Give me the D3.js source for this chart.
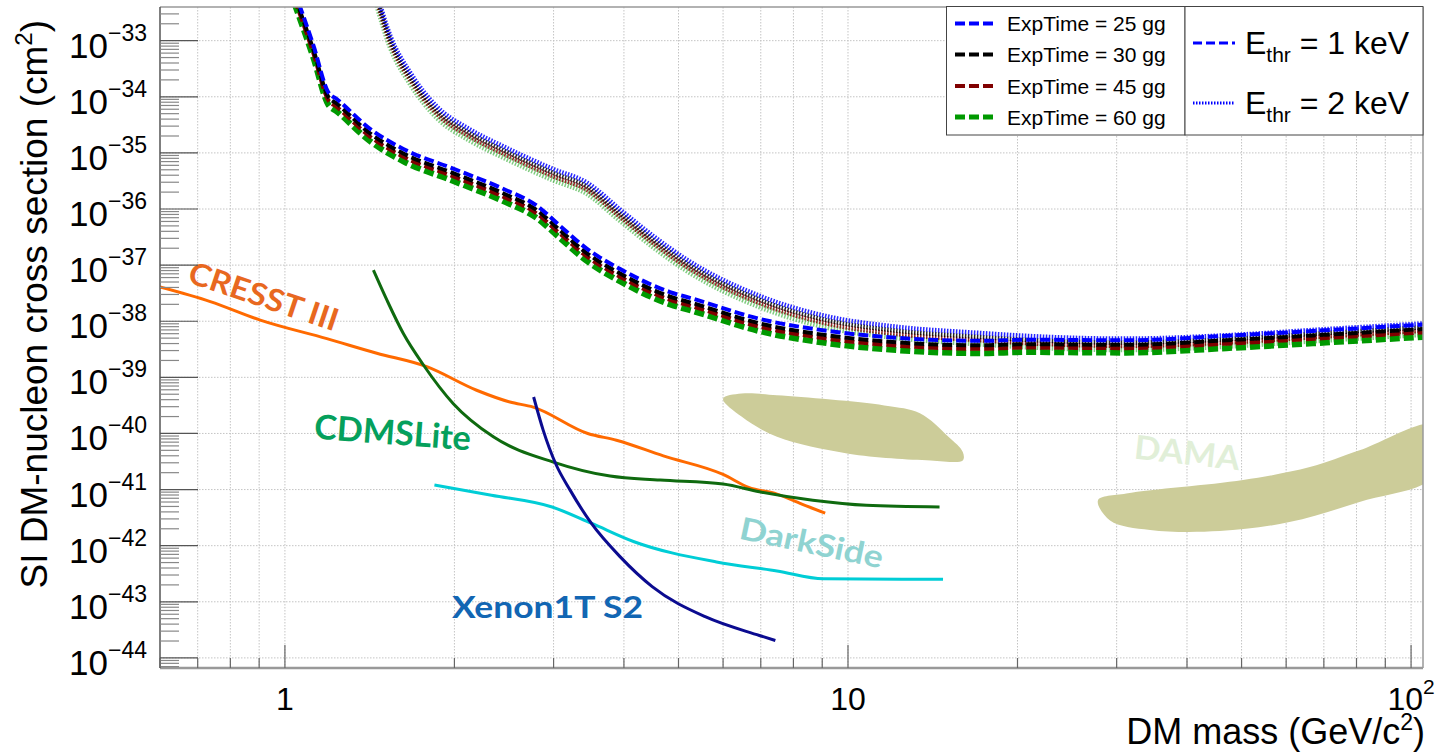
<!DOCTYPE html>
<html lang="en">
<head>
<meta charset="UTF-8">
<title>SI DM-nucleon cross section</title>
<script src="https://d3js.org/d3.v7.min.js"></script>
<style>
  body { margin: 0; background: #fff; }
  svg { display: block; font-family: "Liberation Sans", Arial, sans-serif; }
  .grid line { stroke: #c4c4c4; stroke-width: 1; stroke-dasharray: 1.5,1.5; }
  .tag { font-family: Lato, "Open Sans", sans-serif; font-weight: bold; }
</style>
</head>
<body>
<div id="chart"></div>
<script>
// masses in GeV/c^2, cross sections as log10(sigma / cm^2)

// E_thr = 1 keV (dashed)
var mass1keV = [1.04, 1.124, 1.194, 1.236, 1.416, 1.623, 1.99, 2.44, 2.80, 3.08, 3.44, 3.94, 4.83, 5.31, 6.98, 9.16, 12.0, 17.2, 20.7, 31.2, 47.0, 70.7, 105];
var exp25_1keV = [-32.12, -33.09, -33.92, -34.04, -34.57, -34.93, -35.28, -35.64, -35.94, -36.30, -36.71, -37.07, -37.48, -37.60, -37.96, -38.17, -38.29, -38.35, -38.33, -38.34, -38.26, -38.16, -38.06];
var exp30_1keV = [-32.20, -33.17, -34.00, -34.12, -34.65, -35.01, -35.36, -35.72, -36.02, -36.38, -36.79, -37.15, -37.56, -37.68, -38.04, -38.25, -38.37, -38.43, -38.41, -38.42, -38.34, -38.24, -38.14];
var exp45_1keV = [-32.26, -33.23, -34.06, -34.18, -34.71, -35.07, -35.42, -35.78, -36.08, -36.44, -36.85, -37.21, -37.62, -37.74, -38.10, -38.31, -38.43, -38.49, -38.47, -38.48, -38.40, -38.30, -38.20];
var exp60_1keV = [-32.34, -33.31, -34.14, -34.26, -34.79, -35.15, -35.50, -35.86, -36.16, -36.52, -36.93, -37.29, -37.70, -37.82, -38.18, -38.39, -38.51, -38.57, -38.55, -38.56, -38.48, -38.38, -38.28];

// E_thr = 2 keV (dotted)
var mass2keV = [1.44, 1.54, 1.67, 1.86, 2.13, 2.44, 3.0, 3.44, 3.94, 4.51, 5.17, 6.98, 9.16, 12.0, 17.2, 20.7, 31.2, 47.0, 70.7, 105];
var exp25_2keV = [-31.98, -32.92, -33.57, -34.17, -34.58, -34.88, -35.29, -35.53, -36.01, -36.48, -36.90, -37.55, -37.91, -38.09, -38.21, -38.26, -38.31, -38.25, -38.14, -38.04];
var exp30_2keV = [-32.05, -32.99, -33.64, -34.24, -34.65, -34.95, -35.36, -35.60, -36.08, -36.55, -36.97, -37.62, -37.98, -38.16, -38.28, -38.33, -38.38, -38.32, -38.21, -38.11];
var exp45_2keV = [-32.11, -33.05, -33.70, -34.30, -34.71, -35.01, -35.42, -35.66, -36.14, -36.61, -37.03, -37.68, -38.04, -38.22, -38.34, -38.39, -38.44, -38.38, -38.27, -38.17];
var exp60_2keV = [-32.17, -33.11, -33.76, -34.36, -34.77, -35.07, -35.48, -35.72, -36.20, -36.67, -37.09, -37.74, -38.10, -38.28, -38.40, -38.45, -38.50, -38.44, -38.33, -38.23];

// other experiments
var cresstMass = [0.6, 0.737, 0.904, 1.187, 1.456, 1.786, 2.19, 2.51, 2.76, 3.45, 3.88, 4.7, 6.0, 6.66, 7.48, 8.28, 9.11];
var cresstLog = [-37.39, -37.65, -37.98, -38.31, -38.57, -38.81, -39.23, -39.44, -39.53, -40.00, -40.12, -40.40, -40.73, -40.96, -41.08, -41.26, -41.42];
var cdmsMass = [1.436, 1.517, 1.623, 1.762, 1.991, 2.345, 2.997, 3.78, 4.64, 6.0, 6.96, 8.66, 10.78, 14.54];
var cdmsLog = [-37.09, -37.62, -38.22, -38.78, -39.47, -40.06, -40.51, -40.76, -40.83, -40.90, -41.04, -41.19, -41.28, -41.31];
var xenonMass = [2.765, 2.875, 3.026, 3.21, 3.50, 3.94, 4.49, 5.59, 6.96, 7.43];
var xenonLog = [-39.35, -39.94, -40.54, -41.01, -41.60, -42.20, -42.73, -43.27, -43.60, -43.69];
var darksideMass = [1.843, 2.327, 2.982, 3.50, 4.17, 5.84, 7.48, 9.05, 14.75];
var darksideLog = [-40.92, -41.10, -41.31, -41.60, -41.93, -42.29, -42.45, -42.59, -42.60];
var damaLowMass = [6.0, 6.47, 7.48, 11.6, 13.42, 15.08, 15.99, 15.99, 14.02, 10.02, 7.48, 6.47];
var damaLowLog = [-39.38, -39.29, -39.32, -39.50, -39.64, -40.06, -40.33, -40.48, -40.48, -40.36, -40.06, -39.70];
var damaHighMass = [27.8, 31.2, 50.3, 66.1, 81.0, 110, 110, 81.0, 60.8, 45.7, 34.4, 29.2];
var damaHighLog = [-41.19, -41.07, -40.83, -40.60, -40.30, -39.85, -40.75, -41.22, -41.58, -41.74, -41.72, -41.55];

var xTickLabels = [1, 10, 100];
var yDecades = [-33, -34, -35, -36, -37, -38, -39, -40, -41, -42, -43, -44];
var legendExp = ["ExpTime = 25 gg", "ExpTime = 30 gg", "ExpTime = 45 gg", "ExpTime = 60 gg"];
var legendThr = ["1 keV", "2 keV"];

var W = 1441, H = 755;
var L = 160, R = 1423, T = 7, B = 668;

var svg = d3.select('#chart').append('svg').attr('width', W).attr('height', H);

var x = d3.scaleLog().domain([0.6, 105]).range([L, R]);
var y = d3.scaleLog().domain([Math.pow(10, -44.18), Math.pow(10, -32.4)]).range([B, T]);

function isDecade(v) {
  var l = Math.log10(v);
  return Math.abs(l - Math.round(l)) < 1e-6;
}

svg.append('clipPath').attr('id', 'frameclip')
   .append('rect').attr('x', L).attr('y', T).attr('width', R - L).attr('height', B - T);

// grid
var grid = svg.append('g').attr('class', 'grid');
x.ticks(10).forEach(function(v) {
  if (x(v) <= L + 1 || x(v) >= R - 1) return;
  grid.append('line').attr('x1', x(v)).attr('x2', x(v)).attr('y1', T).attr('y2', B);
});
y.ticks(20).filter(isDecade).forEach(function(v) {
  grid.append('line').attr('x1', L).attr('x2', R).attr('y1', y(v)).attr('y2', y(v));
});

var plot = svg.append('g').attr('clip-path', 'url(#frameclip)');

function pts(ms, ls) { return ms.map(function(m, i) { return [m, ls[i]]; }); }
var line = d3.line()
  .x(function(d) { return x(d[0]); })
  .y(function(d) { return y(Math.pow(10, d[1])); })
  .curve(d3.curveMonotoneX);
var area = d3.line()
  .x(function(d) { return x(d[0]); })
  .y(function(d) { return y(Math.pow(10, d[1])); })
  .curve(d3.curveCatmullRomClosed);

// DAMA regions
[[damaLowMass, damaLowLog], [damaHighMass, damaHighLog]].forEach(function(r) {
  plot.append('path').attr('d', area(pts(r[0], r[1]))).attr('fill', '#cccc99').attr('stroke', 'none');
});

// other experiments
var others = [
  {m: cresstMass, l: cresstLog, c: '#ff6a00'},
  {m: cdmsMass, l: cdmsLog, c: '#0f6a0f'},
  {m: darksideMass, l: darksideLog, c: '#00cdd6'},
  {m: xenonMass, l: xenonLog, c: '#0b0b90'}
];
others.forEach(function(o) {
  plot.append('path').attr('d', line(pts(o.m, o.l)))
      .attr('fill', 'none').attr('stroke', o.c).attr('stroke-width', 3);
});

// ExpTime curves
var expColors = ['#0000ff', '#000000', '#800000', '#009900'];
var expWidths = [4, 4, 4, 6];
var dotted = [exp60_2keV, exp45_2keV, exp30_2keV, exp25_2keV];
var dashed = [exp60_1keV, exp45_1keV, exp30_1keV, exp25_1keV];
dotted.forEach(function(s, i) {
  var k = 3 - i;
  plot.append('path').attr('d', line(pts(mass2keV, s)))
      .attr('fill', 'none').attr('stroke', expColors[k])
      .attr('stroke-width', k === 3 ? 6 : 4.5)
      .attr('stroke-opacity', k === 3 ? 0.5 : 0.85)
      .attr('stroke-dasharray', '1.5,1.5');
});
dashed.forEach(function(s, i) {
  var k = 3 - i;
  plot.append('path').attr('d', line(pts(mass1keV, s)))
      .attr('fill', 'none').attr('stroke', expColors[k])
      .attr('stroke-width', expWidths[k])
      .attr('stroke-dasharray', '10,4');
});

// experiment tags
var tags = [
  {t: 'CRESST III', m: 0.668, l: -37.30, a: 18.5, s: 31, len: 156, c: '#e8681f'},
  {t: 'CDMSLite', m: 1.124, l: -40.09, a: 4.3, s: 34, len: 157, c: '#05a05c'},
  {t: 'Xenon1T S2', m: 1.98, l: -43.29, a: 0, s: 31, len: 191, c: '#1266b3'},
  {t: 'DarkSide', m: 6.375, l: -41.87, a: 11.9, s: 31, len: 146, c: '#8fd3d1'},
  {t: 'DAMA', m: 32.1, l: -40.445, a: 6.4, s: 33, len: 106, c: '#e1efd8'}
];
tags.forEach(function(g) {
  var px = x(g.m), py = y(Math.pow(10, g.l));
  svg.append('text').attr('class', 'tag')
     .attr('transform', 'translate(' + px + ',' + py + ') rotate(' + g.a + ')')
     .attr('font-size', g.s).attr('fill', g.c)
     .attr('textLength', g.len).attr('lengthAdjust', 'spacingAndGlyphs')
     .text(g.t);
});

// frame
svg.append('line').attr('x1', L).attr('x2', R).attr('y1', T).attr('y2', T).attr('stroke', '#999').attr('stroke-width', 1.5);
svg.append('line').attr('x1', R).attr('x2', R).attr('y1', T).attr('y2', B).attr('stroke', '#999').attr('stroke-width', 1.5);
svg.append('line').attr('x1', L).attr('x2', R).attr('y1', B).attr('y2', B).attr('stroke', '#999').attr('stroke-width', 2.5);
svg.append('line').attr('x1', L).attr('x2', L).attr('y1', T).attr('y2', B).attr('stroke', '#555').attr('stroke-width', 1.5);

// ticks
y.ticks(20).forEach(function(v) {
  if (y(v) < T || y(v) > B) return;
  var major = isDecade(v);
  svg.append('line').attr('x1', L).attr('x2', L + (major ? 38 : 19))
     .attr('y1', y(v)).attr('y2', y(v))
     .attr('stroke', major ? '#555' : '#888').attr('stroke-width', 1.2);
});
x.ticks(10).forEach(function(v) {
  var major = isDecade(v);
  svg.append('line').attr('x1', x(v)).attr('x2', x(v))
     .attr('y1', B).attr('y2', B - (major ? 23 : 10))
     .attr('stroke', '#666').attr('stroke-width', 1.2);
});

// y labels
yDecades.forEach(function(d) {
  var t = svg.append('text').attr('x', 147).attr('y', y(Math.pow(10, d)) + 17)
     .attr('text-anchor', 'end').attr('font-size', 35).attr('fill', '#000');
  t.append('tspan').text('10');
  t.append('tspan').attr('font-size', 23).attr('dy', -17).text('\u2212' + Math.abs(d));
});

// x labels
xTickLabels.forEach(function(v) {
  var t = svg.append('text').attr('x', x(v)).attr('y', 710).attr('text-anchor', 'middle')
     .attr('font-size', 32).attr('fill', '#000');
  if (v === 100) {
    t.append('tspan').text('10');
    t.append('tspan').attr('font-size', 21).attr('dy', -16).text('2');
  } else {
    t.text(String(v));
  }
});

// axis titles
var xt = svg.append('text').attr('x', 1425).attr('y', 744).attr('text-anchor', 'end')
  .attr('font-size', 36).attr('fill', '#000');
xt.append('tspan').text('DM mass (GeV/c');
xt.append('tspan').attr('font-size', 23).attr('dy', -14).text('2');
xt.append('tspan').attr('dy', 14).text(')');

var yt = svg.append('text').attr('transform', 'translate(47,20) rotate(-90)')
  .attr('text-anchor', 'end').attr('font-size', 37).attr('fill', '#000');
yt.append('tspan').text('SI DM-nucleon cross section (cm');
yt.append('tspan').attr('font-size', 24).attr('dy', -15).text('2');
yt.append('tspan').attr('dy', 15).text(')');

// legend: exposure times
var lg1 = svg.append('g');
lg1.append('rect').attr('x', 946.5).attr('y', 6.5).attr('width', 238.5).attr('height', 128.5)
   .attr('fill', '#fff').attr('stroke', '#444').attr('stroke-width', 1);
var rowY = [23.5, 54.5, 86, 117];
legendExp.forEach(function(txt, i) {
  lg1.append('line').attr('x1', 955).attr('x2', 995).attr('y1', rowY[i]).attr('y2', rowY[i])
     .attr('stroke', expColors[i]).attr('stroke-width', i === 3 ? 5 : 4).attr('stroke-dasharray', '10,4');
  lg1.append('text').attr('x', 1007).attr('y', rowY[i] + 7.5).attr('font-size', 21).attr('fill', '#000').text(txt);
});

// legend: thresholds
var lg2 = svg.append('g');
lg2.append('rect').attr('x', 1185).attr('y', 6.5).attr('width', 238).attr('height', 128.5)
   .attr('fill', '#fff').attr('stroke', '#444').attr('stroke-width', 1);
var thrY = [43, 103];
legendThr.forEach(function(txt, i) {
  lg2.append('line').attr('x1', 1193).attr('x2', 1235).attr('y1', thrY[i]).attr('y2', thrY[i])
     .attr('stroke', '#0000ff').attr('stroke-width', 3)
     .attr('stroke-dasharray', i === 0 ? '9,4' : '1.5,1.5');
  var t = lg2.append('text').attr('x', 1245).attr('y', thrY[i] + 11).attr('font-size', 32).attr('fill', '#000');
  t.append('tspan').text('E');
  t.append('tspan').attr('font-size', 21).attr('dy', 8).text('thr');
  t.append('tspan').attr('dy', -8).text(' = ' + txt);
});
</script>
</body>
</html>
